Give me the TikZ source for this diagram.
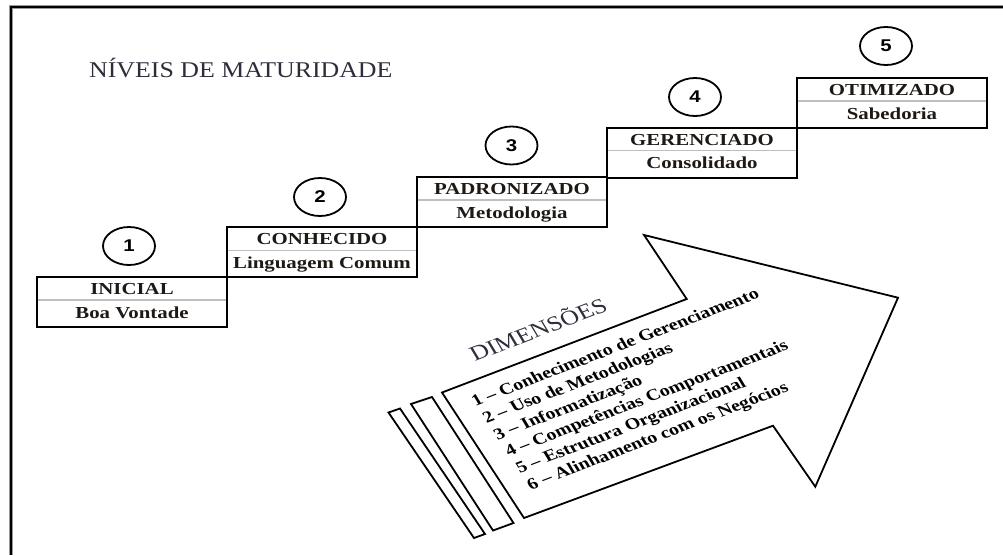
\documentclass[tikz,border=0pt]{standalone}
\usepackage{fontspec}
\setmainfont{Liberation Serif}
\newfontfamily\titlefont[FakeStretch=1.15]{Liberation Serif}
\newfontfamily\boxfont[FakeStretch=1.24]{Liberation Serif}
\newfontfamily\numfont[FakeStretch=1.2]{Liberation Sans}
\usetikzlibrary{shapes.geometric}
\definecolor{titlecol}{RGB}{45,45,60}
\definecolor{boxtxt}{RGB}{30,25,20}
\begin{document}
\begin{tikzpicture}[x=1pt,y=-1pt,
  levelbox/.style={draw=black, line width=2pt, minimum width=190pt, minimum height=50pt, inner sep=0pt},
  divider/.style={draw=black!25, line width=1.3pt},
  numcirc/.style={draw=black, ellipse, line width=1.8pt, minimum width=52pt, minimum height=38pt, inner sep=0pt,
    font=\numfont\bfseries\fontsize{17}{17}\selectfont},
  lvltext/.style={anchor=base, inner sep=0pt, text=boxtxt, font=\boxfont\bfseries\fontsize{16.8}{17}\selectfont},
  itemtext/.style={anchor=base west, inner sep=0pt, transform shape, text=black,
    font=\bfseries\fontsize{16.1}{17}\selectfont},
  dimtext/.style={anchor=base west, inner sep=0pt, transform shape, text=titlecol,
    font=\fontsize{20.8}{22}\selectfont},
  shape line/.style={draw=black, line width=1.8pt, line join=miter}]
\useasboundingbox (0,0) rectangle (1003,555);

% frame (top and left edges)
\draw[black!40, line width=4pt] (11,555) -- (11,7) -- (1003,7);
\draw[black, line width=1.8pt] (11,555) -- (11,7) -- (1003,7);

% title
\node[anchor=base west, inner sep=0pt, text=titlecol, font=\titlefont\fontsize{22.5}{24}\selectfont]
  (title) at (89,77.5) {NÍVEIS DE MATURIDADE};

% level boxes: dividers first
\foreach \i/\cx/\cy in {1/132/302, 2/322/252.2, 3/512/202, 4/702/152.5, 5/892/103}{
  \coordinate (dl\i) at (\cx-95,\cy-2);
  \coordinate (dr\i) at (\cx+95,\cy-2);
  \draw[divider] (dl\i) -- (dr\i);
}
\node[levelbox] (b1) at (132,302) {};
\node[levelbox] (b2) at (322,252.2) {};
\node[levelbox] (b3) at (512,202) {};
\node[levelbox] (b4) at (702,152.5) {};
\node[levelbox] (b5) at (892,103) {};

\node[lvltext] (h1) at (132,294.5) {INICIAL};
\node[lvltext] (s1) at (132,318) {Boa Vontade};
\node[lvltext] (h2) at (322,244.7) {CONHECIDO};
\node[lvltext] (s2) at (322,268.2) {Linguagem Comum};
\node[lvltext] (h3) at (512,194.5) {PADRONIZADO};
\node[lvltext] (s3) at (512,218) {Metodologia};
\node[lvltext] (h4) at (702,145) {GERENCIADO};
\node[lvltext] (s4) at (702,168.5) {Consolidado};
\node[lvltext] (h5) at (892,95.5) {OTIMIZADO};
\node[lvltext] (s5) at (892,119) {Sabedoria};

% numbered circles
\node[numcirc] (n1) at (129,246) {1};
\node[numcirc] (n2) at (320,197) {2};
\node[numcirc] (n3) at (511.5,145.5) {3};
\node[numcirc] (n4) at (695,97) {4};
\node[numcirc] (n5) at (886,46) {5};

% big arrow
\coordinate (tailtop) at (442,392.5);
\coordinate (notchup) at (686.7,299);
\coordinate (headup) at (644,235);
\coordinate (tip) at (898,297.7);
\coordinate (headlow) at (815.3,486.7);
\coordinate (notchlow) at (773,425.7);
\coordinate (tailbot) at (524,518);
\draw[shape line] (tailtop) -- (notchup) -- (headup) -- (tip) -- (headlow) -- (notchlow) -- (tailbot) -- cycle;

% stripes behind the tail
\draw[shape line] (411,404) -- (432,397) -- (513.5,523) -- (493,530.5) -- cycle;
\draw[shape line] (388.5,412.5) -- (400,408.5) -- (485,534) -- (474,538) -- cycle;

% arrow texts
\begin{scope}[shift={(475.2,406.7)}, xscale=1.25, rotate=25.6]
  \node[dimtext] (dim) at (19,-40.5) {DIMENSÕES};
  \node[itemtext] (d1) at (0,0) {1 – Conhecimento de Gerenciamento};
  \node[itemtext] (d2) at (0.8,18.9) {2 – Uso de Metodologias};
  \node[itemtext] (d3) at (1.6,37.8) {3 – Informatização};
  \node[itemtext] (d4) at (2.4,56.7) {4 – Competências Comportamentais};
  \node[itemtext] (d5) at (3.2,75.6) {5 – Estrutura Organizacional};
  \node[itemtext] (d6) at (4.0,94.5) {6 – Alinhamento com os Negócios};
\end{scope}
\end{tikzpicture}
\end{document}
